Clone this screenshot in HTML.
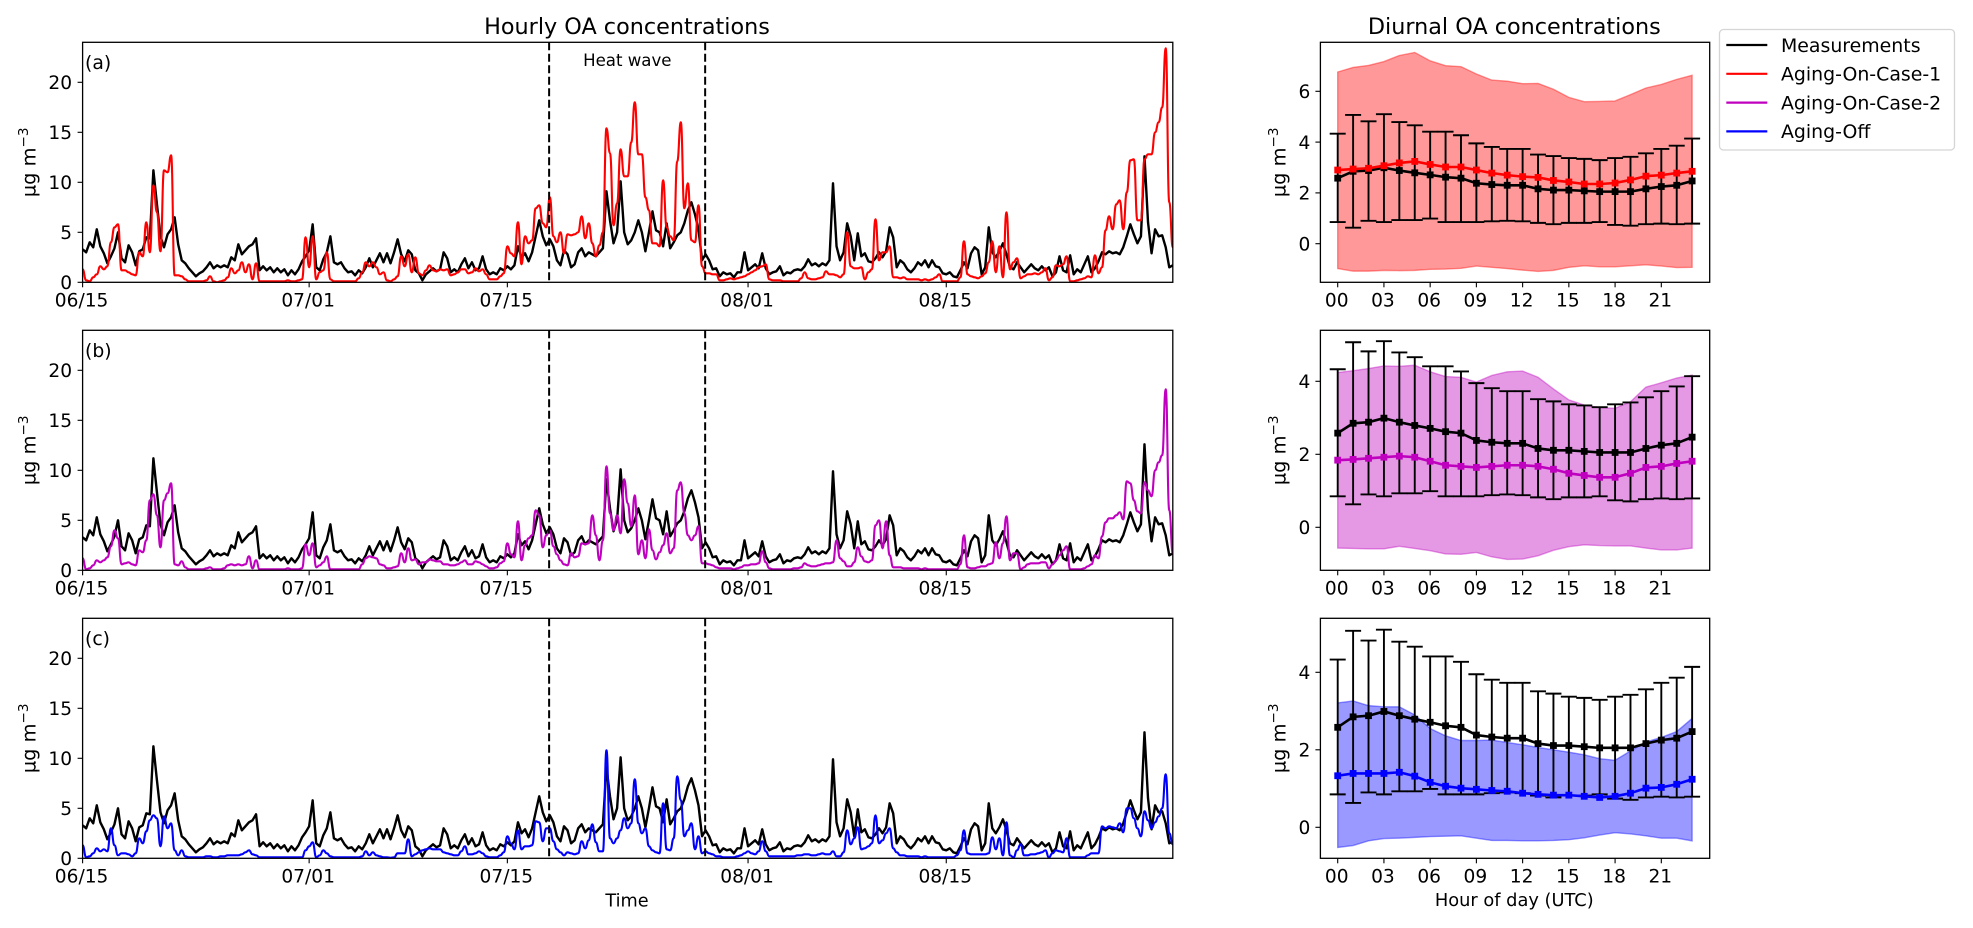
<!DOCTYPE html>
<html lang="en">
<head>
<meta charset="utf-8">
<title>Hourly and diurnal OA concentrations</title>
<style>
html,body{margin:0;padding:0;background:#fff;width:1973px;height:928px;overflow:hidden}
svg{display:block}
text{font-family:"DejaVu Sans","Liberation Sans",sans-serif;fill:#000}
</style>
</head>
<body>
<svg id="figure" xmlns="http://www.w3.org/2000/svg" width="1973" height="928" viewBox="0 0 1973 928"></svg>
<script>
// ---------- Hourly data: six-hour samples, one row per day starting 06/15 ----------
const measuredOA=[
3.3,3.0,4.0,3.5,
5.3,3.6,2.9,1.9,
2.6,3.4,5.0,2.4,
2.0,3.7,3.0,1.7,
3.1,3.3,4.5,4.4,
11.2,7.8,4.6,3.5,
4.8,5.3,6.5,3.8,
2.2,1.9,1.4,1.0,
0.6,0.9,1.1,1.5,
2.0,1.4,1.7,1.5,
1.7,1.5,2.5,2.2,
3.8,2.8,3.2,3.6,
3.8,4.4,1.2,1.6,
1.2,1.5,1.0,1.4,
1.0,1.3,0.7,1.2,
0.8,1.3,2.1,2.6,
3.2,5.8,1.5,1.2,
2.3,3.0,4.6,2.0,
1.8,2.0,1.4,1.0,
1.1,0.7,1.2,0.9,
1.5,2.4,1.5,2.2,
2.9,2.0,2.9,1.9,
3.0,4.3,2.8,2.1,
3.2,2.8,1.2,0.9,
0.2,0.8,1.1,1.4,
1.1,1.3,3.0,2.4,
1.0,1.3,1.0,1.8,
2.4,1.4,2.0,1.2,
1.4,2.6,1.3,0.8,
1.0,0.8,1.4,1.2,
1.6,1.3,1.7,3.6,
2.5,2.9,2.1,3.0,
4.6,6.2,4.6,3.7,
4.3,3.6,2.2,1.7,
3.2,2.8,1.5,1.8,
3.0,3.4,2.6,3.0,
2.8,2.6,3.0,3.4,
9.1,6.2,3.9,5.0,
10.1,5.0,3.8,4.2,
5.0,6.2,5.0,3.1,
5.0,7.1,5.2,5.0,
3.6,5.9,3.4,4.0,
4.7,5.0,5.9,7.2,
8.0,6.8,5.3,2.2,
2.8,2.2,1.3,1.4,
0.6,1.0,0.8,0.9,
0.5,1.0,1.0,3.0,
1.2,1.5,1.8,1.4,
2.9,1.4,0.8,1.0,
1.1,1.6,0.7,1.0,
0.9,1.2,1.3,1.2,
1.6,2.3,1.7,1.9,
1.6,1.9,1.7,2.2,
9.9,3.6,2.2,3.0,
5.9,4.6,2.2,4.9,
2.6,2.9,2.1,2.0,
2.4,3.0,2.5,3.1,
5.5,4.5,1.5,2.2,
1.9,1.3,1.0,1.4,
2.0,1.7,2.2,1.5,
2.2,1.6,1.5,0.9,
0.8,1.0,0.6,0.5,
1.2,2.0,1.4,2.9,
3.5,3.2,0.8,1.5,
5.5,3.0,2.5,3.1,
3.9,2.8,1.5,1.3,
2.0,1.5,1.0,1.4,
1.8,1.4,1.2,1.6,
1.2,1.5,0.6,1.0,
2.6,1.2,1.0,2.7,
0.8,1.3,1.0,1.8,
2.6,1.0,1.4,2.1,
3.0,2.8,3.1,2.9,
3.0,2.8,3.5,4.6,
5.8,4.8,3.9,4.6,
12.6,6.0,2.9,5.3,
4.6,4.7,3.5,1.5,
1.7];
const agingCase1OA=[
1.3,0.2,0.1,0.5,
0.8,1.6,1.3,1.6,
4.0,5.5,5.8,1.2,
1.2,1.0,0.8,0.7,
3.0,2.6,6.0,3.0,
9.7,7.0,3.1,11.2,
11.0,12.7,0.7,0.7,
0.6,0.3,0.1,0.1,
0.1,0.1,0.1,0.2,
0.6,0.1,0.0,0.1,
0.2,0.5,1.4,0.9,
1.2,2.0,1.0,1.8,
0.3,1.9,0.1,0.1,
0.1,0.1,0.1,0.1,
0.1,0.1,0.2,0.1,
0.1,0.2,0.3,4.5,
1.5,4.6,0.3,1.0,
1.2,3.0,0.3,0.1,
0.1,0.1,0.1,0.1,
0.1,0.1,0.4,1.0,
2.0,1.6,2.0,1.5,
0.8,1.0,0.2,0.1,
0.3,0.6,2.6,1.6,
2.8,1.0,2.5,0.9,
0.7,1.2,1.7,1.2,
1.1,1.3,1.2,1.3,
0.7,0.8,1.0,1.3,
1.3,0.9,1.0,1.4,
1.1,1.3,0.8,0.3,
0.3,0.3,0.6,0.9,
3.6,2.9,2.6,6.0,
1.8,4.6,3.9,4.2,
7.4,7.7,5.9,5.5,
8.5,4.6,4.0,5.0,
2.9,4.8,4.7,4.8,
5.0,6.6,4.4,5.9,
3.9,2.6,3.7,5.0,
15.4,12.9,5.7,7.9,
13.3,10.6,10.6,14.0,
18.0,12.8,12.8,8.5,
7.2,3.9,3.9,3.6,
10.2,5.5,4.6,4.2,
12.1,16.0,7.4,9.9,
4.2,4.0,7.7,1.6,
0.9,0.9,0.8,0.8,
0.2,0.2,0.3,0.4,
0.3,0.4,0.5,0.6,
0.8,1.0,1.2,1.5,
1.6,1.8,0.3,0.2,
0.2,0.2,0.1,0.1,
0.1,0.1,0.1,0.4,
1.0,0.4,0.3,0.3,
0.4,0.5,1.1,0.8,
0.8,0.7,0.5,0.8,
5.0,1.6,1.4,1.4,
1.5,0.3,1.0,1.3,
6.3,2.2,3.0,3.0,
3.6,0.5,0.5,0.4,
0.5,0.3,0.3,0.3,
0.3,0.2,0.3,0.2,
0.3,0.5,0.8,0.1,
0.1,0.1,0.1,0.1,
0.5,4.1,0.8,0.6,
0.5,0.4,0.6,0.9,
2.0,4.1,1.0,3.6,
0.5,7.0,1.3,2.0,
2.4,0.4,0.6,0.8,
0.8,0.9,0.8,1.0,
1.4,0.2,0.5,1.7,
1.6,1.8,2.6,0.1,
0.1,0.2,0.3,0.4,
0.6,0.5,2.7,0.9,
1.5,5.2,6.6,5.3,
7.8,8.2,5.3,9.0,
12.2,12.3,6.2,6.2,
12.3,12.8,12.8,15.0,
16.0,17.5,23.4,8.0,
3.5];
const agingCase2OA=[
1.2,0.1,0.2,0.5,
1.0,0.8,1.0,1.3,
2.4,4.0,3.2,0.6,
0.7,0.8,0.6,0.5,
2.0,1.8,3.0,7.0,
7.6,5.5,2.3,7.0,
7.7,8.7,0.6,0.5,
0.9,0.3,0.1,0.1,
0.1,0.1,0.1,0.2,
0.3,0.1,0.1,0.1,
0.2,0.5,0.6,0.5,
0.6,0.5,0.6,1.4,
0.2,1.0,0.1,0.1,
0.1,0.1,0.1,0.1,
0.1,0.1,0.2,0.1,
0.1,0.1,0.2,2.6,
1.5,2.7,0.3,0.5,
0.8,1.4,0.1,0.1,
0.1,0.1,0.1,0.1,
0.1,0.1,0.1,0.6,
1.2,1.4,1.3,1.2,
0.6,0.5,0.2,0.2,
0.3,0.4,1.7,0.8,
2.2,1.0,1.1,0.6,
0.8,0.8,1.1,1.0,
0.9,0.9,0.6,0.6,
0.5,0.5,0.6,0.8,
1.0,0.6,0.6,0.9,
0.8,0.6,0.4,0.2,
0.2,0.3,0.7,0.9,
2.7,1.6,1.3,4.9,
1.0,2.5,3.2,3.5,
6.0,5.5,2.3,3.5,
4.0,2.4,1.6,1.0,
0.6,0.5,1.7,1.3,
1.4,2.7,2.6,2.7,
5.5,3.5,1.0,3.0,
10.4,5.7,4.0,5.5,
3.7,9.1,6.7,4.4,
7.5,1.6,3.0,1.2,
4.1,2.0,1.1,1.8,
2.5,3.7,1.7,2.2,
8.0,8.8,5.7,3.5,
3.0,3.5,4.4,0.7,
0.7,0.6,0.5,0.3,
0.2,0.2,0.2,0.2,
0.1,0.2,0.3,0.5,
0.5,0.6,0.6,0.7,
1.9,0.8,0.2,0.1,
0.1,0.1,0.1,0.1,
0.1,0.2,0.2,0.3,
0.7,0.5,0.4,0.4,
0.5,0.6,0.7,0.7,
0.8,3.0,1.2,0.9,
0.4,0.4,0.8,2.3,
1.4,0.9,0.8,1.0,
4.5,5.0,2.2,4.9,
1.5,0.3,0.3,0.3,
0.2,0.2,0.2,0.2,
0.2,0.1,0.2,0.1,
0.1,0.1,0.1,0.1,
0.1,0.1,0.1,0.1,
0.6,3.5,0.3,0.2,
0.2,0.3,0.4,0.4,
0.6,0.7,2.8,1.2,
2.7,5.4,1.0,1.7,
1.7,0.1,0.3,0.6,
0.7,0.7,0.7,0.8,
0.8,0.2,0.6,1.0,
1.5,2.0,2.4,0.1,
0.1,0.1,0.1,0.2,
0.4,0.6,1.5,1.2,
3.4,4.8,5.2,5.2,
5.5,5.8,5.1,8.9,
8.7,7.0,5.9,5.7,
8.8,8.0,7.4,10.0,
10.8,11.5,18.1,6.0,
1.7];
const agingOffOA=[
1.3,0.1,0.2,0.5,
1.0,0.7,0.9,0.7,
3.0,1.3,0.3,0.5,
0.5,0.4,0.2,0.5,
2.0,1.5,2.7,3.8,
4.3,4.0,1.2,4.2,
3.0,3.5,0.8,0.3,
0.8,0.2,0.1,0.1,
0.1,0.1,0.1,0.2,
0.2,0.1,0.1,0.2,
0.2,0.3,0.3,0.3,
0.3,0.4,0.6,0.8,
0.4,0.3,0.1,0.1,
0.1,0.1,0.1,0.1,
0.1,0.1,0.1,0.1,
0.1,0.1,0.1,0.8,
1.2,1.6,0.1,0.3,
0.8,0.5,0.2,0.1,
0.1,0.1,0.1,0.1,
0.1,0.1,0.1,0.2,
0.7,0.3,0.6,0.3,
0.2,0.1,0.1,0.05,
0.1,0.5,0.5,0.5,
1.9,0.2,0.4,0.6,
0.8,0.9,1.0,0.9,
0.9,0.9,0.6,0.5,
0.4,0.3,0.3,0.7,
1.2,0.4,0.4,0.5,
0.7,0.5,0.2,0.1,
0.1,0.1,0.3,0.6,
2.2,1.5,0.9,2.8,
0.9,1.2,1.2,1.3,
3.7,3.6,1.7,3.0,
3.0,1.7,0.9,0.6,
0.3,0.6,0.5,0.4,
0.5,1.7,1.0,1.8,
3.4,1.6,0.7,0.7,
10.8,2.0,1.5,2.0,
2.8,4.0,3.0,3.5,
7.9,3.5,2.5,3.0,
1.2,0.8,0.6,0.5,
5.5,0.9,0.8,2.0,
8.2,5.8,2.2,2.8,
3.5,0.9,2.2,0.5,
0.7,0.5,0.4,0.2,
0.2,0.1,0.1,0.1,
0.1,0.2,0.3,0.5,
0.7,0.5,0.4,0.7,
1.7,0.7,0.2,0.2,
0.2,0.2,0.2,0.2,
0.2,0.2,0.3,0.3,
0.4,0.4,0.3,0.3,
0.4,0.5,0.4,0.4,
0.7,0.2,0.2,0.6,
2.8,1.4,2.0,3.1,
0.9,1.0,1.2,1.5,
4.3,1.5,1.8,2.5,
3.0,1.0,0.6,0.3,
0.3,0.2,0.2,0.2,
0.2,0.1,0.2,0.1,
0.1,0.1,0.1,0.1,
0.1,0.1,0.1,0.3,
0.8,2.8,0.5,0.4,
0.4,0.4,0.4,0.4,
0.5,2.1,0.9,2.0,
0.3,3.6,0.3,0.1,
0.8,1.4,0.3,0.3,
0.4,0.4,0.5,0.6,
0.8,0.1,0.5,0.8,
0.7,0.6,2.0,0.1,
0.1,0.1,0.1,0.1,
0.3,0.5,0.5,0.5,
3.2,3.0,3.2,3.1,
3.0,3.5,2.6,5.0,
5.0,4.0,3.0,2.2,
4.7,3.8,3.0,3.6,
4.2,5.0,8.4,2.5,
1.4];

// ---------- Hourly axes labels ----------
const hourlyXTickDays=[0,16,30,47,61];
const hourlyXTickLabels=['06/15','07/01','07/15','08/01','08/15'];
const hourlyYTicks=[0,5,10,15,20];
const heatWaveDays=[32.95,43.97];
const seasonLengthDays=77;
const sampleStepDays=0.25;
const hourlyYMax=24;

// ---------- Diurnal data ----------
const hoursOfDay=[0,1,2,3,4,5,6,7,8,9,10,11,12,13,14,15,16,17,18,19,20,21,22,23];
const diurnalXTicks=[0,3,6,9,12,15,18,21];
const diurnalXLabels=['00','03','06','09','12','15','18','21'];
const measuredMean=[2.58,2.85,2.88,2.99,2.88,2.79,2.71,2.62,2.58,2.38,2.33,2.30,2.30,2.16,2.11,2.11,2.08,2.05,2.05,2.05,2.16,2.25,2.30,2.47];
const measuredUpper=[4.33,5.07,4.82,5.10,4.79,4.66,4.41,4.41,4.27,3.95,3.81,3.73,3.73,3.51,3.45,3.37,3.34,3.29,3.37,3.42,3.56,3.73,3.86,4.14];
const measuredLower=[0.85,0.63,0.90,0.85,0.93,0.93,0.99,0.85,0.85,0.85,0.88,0.90,0.88,0.82,0.77,0.82,0.82,0.85,0.74,0.71,0.77,0.79,0.77,0.79];
const case1Mean=[2.90,2.94,2.97,3.07,3.18,3.24,3.12,3.02,3.02,2.90,2.78,2.70,2.64,2.61,2.49,2.43,2.35,2.35,2.39,2.51,2.66,2.70,2.78,2.85];
const case1Upper=[6.76,6.94,7.02,7.17,7.41,7.53,7.20,7.01,6.97,6.68,6.44,6.40,6.30,6.31,6.08,5.76,5.59,5.60,5.62,5.87,6.13,6.27,6.47,6.63];
const case1Lower=[-0.98,-1.08,-1.08,-1.05,-1.06,-1.05,-1.01,-1.00,-0.97,-0.88,-0.93,-0.98,-1.04,-1.09,-1.05,-0.93,-0.87,-0.91,-0.91,-0.87,-0.83,-0.88,-0.94,-0.93];
const case2Mean=[1.84,1.86,1.89,1.92,1.95,1.92,1.81,1.70,1.67,1.64,1.67,1.70,1.70,1.67,1.59,1.48,1.42,1.37,1.37,1.48,1.64,1.67,1.75,1.81];
const case2Upper=[4.24,4.29,4.35,4.42,4.41,4.44,4.26,4.13,4.11,3.98,4.16,4.26,4.28,4.11,3.79,3.49,3.35,3.28,3.26,3.44,3.84,3.96,4.09,4.17];
const case2Lower=[-0.57,-0.58,-0.59,-0.59,-0.52,-0.58,-0.64,-0.73,-0.74,-0.69,-0.81,-0.88,-0.87,-0.78,-0.63,-0.53,-0.48,-0.50,-0.51,-0.51,-0.57,-0.62,-0.62,-0.57];
const offMean=[1.33,1.39,1.39,1.39,1.42,1.32,1.16,1.06,1.01,0.98,0.95,0.93,0.88,0.85,0.83,0.83,0.80,0.77,0.80,0.88,1.01,1.03,1.11,1.24];
const offUpper=[3.21,3.26,3.14,3.11,3.11,2.90,2.55,2.36,2.24,2.24,2.25,2.19,2.13,2.06,2.00,1.94,1.87,1.77,1.73,1.97,2.20,2.32,2.47,2.81];
const offLower=[-0.52,-0.47,-0.35,-0.29,-0.28,-0.26,-0.24,-0.23,-0.22,-0.28,-0.34,-0.34,-0.35,-0.35,-0.34,-0.32,-0.27,-0.20,-0.14,-0.17,-0.22,-0.28,-0.28,-0.35];

const legendLabels=['Measurements','Aging-On-Case-1','Aging-On-Case-2','Aging-Off'];
const legendColors=['#000000','#ff0000','#bf00bf','#0000ff'];

// ---------- Rendering ----------
const NS='http://www.w3.org/2000/svg';
const svg=document.getElementById('figure');
function mk(tag,attrs,parent,txt){
  const e=document.createElementNS(NS,tag);
  for(const k in attrs){e.setAttribute(k,attrs[k]);}
  if(txt!==undefined){e.textContent=txt;}
  parent.appendChild(e);
  return e;
}
function linePath(xs,ys){
  let d='';
  for(let i=0;i<xs.length;i++){d+=(i?'L':'M')+xs[i].toFixed(2)+' '+ys[i].toFixed(2);}
  return d;
}
function smoothPath(xs,ys){
  let d='M'+xs[0].toFixed(2)+' '+ys[0].toFixed(2);
  for(let i=1;i<xs.length;i++){
    const mx=(xs[i-1]+xs[i])/2;
    d+='C'+mx.toFixed(2)+' '+ys[i-1].toFixed(2)+' '+mx.toFixed(2)+' '+ys[i].toFixed(2)+' '+xs[i].toFixed(2)+' '+ys[i].toFixed(2);
  }
  return d;
}
function drawYLabel(parent,baselineX,cy){
  const t=mk('text',{transform:'translate('+baselineX+','+cy+') rotate(-90)','text-anchor':'middle','font-size':'19.4'},parent);
  
  
  mk('tspan',{},t,'µg m');
  mk('tspan',{dy:'-7.5','font-size':'13.6'},t,'−3');
}

const leftX0=82.6,leftX1=1172.8;
const hourlyPanels=[
 {id:'a',top:42.3,bottom:282.3,series:agingCase1OA,color:'#ff0000',label:'(a)'},
 {id:'b',top:330.3,bottom:570.3,series:agingCase2OA,color:'#bf00bf',label:'(b)'},
 {id:'c',top:618.3,bottom:858.3,series:agingOffOA,color:'#0000ff',label:'(c)'}
];
const xDay=d=>leftX0+(leftX1-leftX0)*d/seasonLengthDays;

const titleLeft=mk('text',{x:627,y:34,'text-anchor':'middle','font-size':'22.3'},svg,'Hourly OA concentrations');


const titleRight=mk('text',{x:1514.3,y:34,'text-anchor':'middle','font-size':'22.3'},svg,'Diurnal OA concentrations');



hourlyPanels.forEach(function(p){
  const g=mk('g',{},svg);
  
  
  const yVal=v=>p.bottom-(p.bottom-p.top)*v/hourlyYMax;
  const clip=mk('clipPath',{id:'clip-h-'+p.id},g);
  mk('rect',{x:leftX0,y:p.top,width:leftX1-leftX0,height:p.bottom-p.top},clip);
  const inner=mk('g',{'clip-path':'url(#clip-h-'+p.id+')'},g);
  const xs=measuredOA.map((_,i)=>xDay(i*sampleStepDays));
  const black=mk('path',{d:linePath(xs,measuredOA.map(yVal)),fill:'none',stroke:'#000','stroke-width':'2.4','stroke-linejoin':'round'},inner);
  
  
  const xs2=p.series.map((_,i)=>xDay(i*sampleStepDays));
  const col=mk('path',{d:smoothPath(xs2,p.series.map(yVal)),fill:'none',stroke:p.color,'stroke-width':'2.1','stroke-linejoin':'round'},inner);
  
  
  heatWaveDays.forEach(function(d){
    const v=mk('line',{x1:xDay(d),x2:xDay(d),y1:p.top,y2:p.bottom,stroke:'#000','stroke-width':'2','stroke-dasharray':'8 3.5'},inner);
    
    
  });
  const frame=mk('rect',{x:leftX0,y:p.top,width:leftX1-leftX0,height:p.bottom-p.top,fill:'none',stroke:'#000','stroke-width':'1.3'},g);
  
  
  hourlyXTickDays.forEach(function(d,i){
    const t=mk('line',{x1:xDay(d),x2:xDay(d),y1:p.bottom,y2:p.bottom+5,stroke:'#000','stroke-width':'1.1'},g);
    
    
    const l=mk('text',{x:xDay(d)-1,y:p.bottom+24.4,'text-anchor':'middle','font-size':'18.6'},g,hourlyXTickLabels[i]);
    
    
  });
  hourlyYTicks.forEach(function(v){
    const t=mk('line',{x1:leftX0-5,x2:leftX0,y1:yVal(v),y2:yVal(v),stroke:'#000','stroke-width':'1.1'},g);
    
    
    const l=mk('text',{x:leftX0-10.5,y:yVal(v)+6.7,'text-anchor':'end','font-size':'18.6'},g,String(v));
    
    
  });
  drawYLabel(g,35.3,(p.top+p.bottom)/2);
  const pl=mk('text',{x:85,y:p.top+26.5,'font-size':'18.8'},g,p.label);
  
  
});

const hw=mk('text',{x:627.3,y:66,'text-anchor':'middle','font-size':'16.6'},svg,'Heat wave');


const tl=mk('text',{x:627,y:906.5,'text-anchor':'middle','font-size':'17.7'},svg,'Time');



const rightX0=1320.4,rightX1=1709.7,hourX0=1337.7,hourPx=15.41;
const xHour=h=>hourX0+hourPx*h;
const diurnalPanels=[
 {id:'a',top:42.3,bottom:282.3,zero:243.7,unit:25.4,ticks:[0,2,4,6],mean:case1Mean,upper:case1Upper,lower:case1Lower,color:'#ff0000'},
 {id:'b',top:330.3,bottom:570.3,zero:527.3,unit:36.5,ticks:[0,2,4],mean:case2Mean,upper:case2Upper,lower:case2Lower,color:'#bf00bf'},
 {id:'c',top:618.3,bottom:858.3,zero:827.3,unit:38.75,ticks:[0,2,4],mean:offMean,upper:offUpper,lower:offLower,color:'#0000ff'}
];
diurnalPanels.forEach(function(p){
  const g=mk('g',{},svg);
  
  
  const yVal=v=>p.zero-p.unit*v;
  const clip=mk('clipPath',{id:'clip-d-'+p.id},g);
  mk('rect',{x:rightX0,y:p.top,width:rightX1-rightX0,height:p.bottom-p.top},clip);
  const inner=mk('g',{'clip-path':'url(#clip-d-'+p.id+')'},g);
  const xs=hoursOfDay.map(xHour);
  const bandD=linePath(xs.concat(xs.slice().reverse()),p.upper.map(yVal).concat(p.lower.map(yVal).reverse()))+'Z';
  const band=mk('path',{d:bandD,fill:p.color,'fill-opacity':'0.4',stroke:p.color,'stroke-opacity':'0.4','stroke-width':'1.4'},inner);
  
  
  hoursOfDay.forEach(function(h,i){
    const x=xHour(h),yu=yVal(measuredUpper[i]),yl=yVal(measuredLower[i]);
    const bar=mk('path',{d:'M'+x+' '+yu+'L'+x+' '+yl+'M'+(x-8)+' '+yu+'L'+(x+8)+' '+yu+'M'+(x-8)+' '+yl+'L'+(x+8)+' '+yl,fill:'none',stroke:'#000','stroke-width':'1.9'},inner);
    
    
  });
  [[measuredMean,'#000000','measurement-mean'],[p.mean,p.color,'model-mean']].forEach(function(s){
    const line=mk('path',{d:linePath(xs,s[0].map(yVal)),fill:'none',stroke:s[1],'stroke-width':'2.6','stroke-linejoin':'round'},inner);
    
    
    hoursOfDay.forEach(function(h,i){
      const m=mk('rect',{x:xHour(h)-3.4,y:yVal(s[0][i])-3.4,width:6.8,height:6.8,fill:s[1]},inner);
      
      
    });
  });
  const frame=mk('rect',{x:rightX0,y:p.top,width:rightX1-rightX0,height:p.bottom-p.top,fill:'none',stroke:'#000','stroke-width':'1.3'},g);
  
  
  diurnalXTicks.forEach(function(h,i){
    const t=mk('line',{x1:xHour(h),x2:xHour(h),y1:p.bottom,y2:p.bottom+5,stroke:'#000','stroke-width':'1.1'},g);
    
    
    const l=mk('text',{x:xHour(h)-1,y:p.bottom+24.4,'text-anchor':'middle','font-size':'18.6'},g,diurnalXLabels[i]);
    
    
  });
  p.ticks.forEach(function(v){
    const t=mk('line',{x1:rightX0-5,x2:rightX0,y1:yVal(v),y2:yVal(v),stroke:'#000','stroke-width':'1.1'},g);
    
    
    const l=mk('text',{x:rightX0-10,y:yVal(v)+6.7,'text-anchor':'end','font-size':'18.6'},g,String(v));
    
    
  });
  drawYLabel(g,1285.3,(p.top+p.bottom)/2);
});
const hl=mk('text',{x:1514.3,y:906,'text-anchor':'middle','font-size':'17.8'},svg,'Hour of day (UTC)');



const legend=mk('g',{},svg);


const legendBox=mk('rect',{x:1719.5,y:29.5,width:235,height:120.5,rx:4,ry:4,fill:'#fff',stroke:'#d5d5d5','stroke-width':'1.3'},legend);


legendLabels.forEach(function(label,i){
  const y=45+i*28.8;
  const h=mk('line',{x1:1726.3,x2:1767.3,y1:y,y2:y,stroke:legendColors[i],'stroke-width':'2.2'},legend);
  
  
  const t=mk('text',{x:1781,y:y+6.8,'font-size':'18.9'},legend,label);
  
  
});
</script>
</body>
</html>
